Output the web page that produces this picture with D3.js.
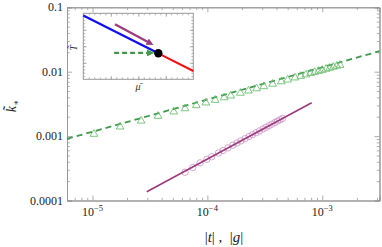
<!DOCTYPE html>
<html>
<head>
<meta charset="utf-8">
<script src="https://cdn.jsdelivr.net/npm/d3@7"></script>
<style>
  body { margin: 0; background: #fff; }
  svg { display: block; font-family: "Liberation Serif", "DejaVu Serif", serif; }
</style>
</head>
<body>
<div id="chart"></div>
<script>
// green triangles: |g| vs k
var gValues = [1.03e-5, 1.74e-5, 2.65e-5, 3.72e-5, 5.1e-5, 6.4e-5, 8.0e-5, 9.7e-5, 1.17e-4, 1.4e-4,
    1.6e-4, 1.94e-4, 2.28e-4, 2.68e-4, 3.1e-4, 3.7e-4, 4.4e-4, 5.0e-4, 5.8e-4, 6.5e-4,
    7.2e-4, 7.9e-4, 8.6e-4, 9.3e-4, 1.0e-3, 1.08e-3, 1.16e-3, 1.25e-3, 1.34e-3, 1.43e-3];
var gK = [1.075e-3, 1.397e-3, 1.725e-3, 2.043e-3, 2.392e-3, 2.68e-3, 2.996e-3, 3.299e-3, 3.624e-3, 3.964e-3,
    4.237e-3, 4.666e-3, 5.058e-3, 5.484e-3, 5.898e-3, 6.444e-3, 7.027e-3, 7.491e-3, 8.068e-3, 8.541e-3,
    8.989e-3, 9.416e-3, 9.824e-3, 1.0216e-2, 1.0594e-2, 1.1009e-2, 1.141e-2, 1.1844e-2, 1.2263e-2, 1.2668e-2];
// green dashed fit (endpoints)
var gFitX = [6e-6, 3.15e-3];
var gFitY = [9.06e-4, 2.08e-2];

// purple circles: |t| vs k
var tValues = [6.4e-5, 7.46e-5, 8.64e-5, 9.9e-5, 1.09e-4, 1.25e-4, 1.37e-4, 1.51e-4, 1.67e-4, 1.81e-4,
    1.96e-4, 2.13e-4, 2.31e-4, 2.47e-4, 2.65e-4, 2.84e-4, 3.05e-4, 3.24e-4, 3.44e-4, 3.65e-4,
    3.88e-4, 4.08e-4, 4.29e-4, 4.51e-4];
var tK = [2.75e-4, 3.25e-4, 3.84e-4, 4.37e-4, 4.79e-4, 5.47e-4, 5.97e-4, 6.56e-4, 7.23e-4, 7.82e-4,
    8.43e-4, 9.13e-4, 9.89e-4, 1.054e-3, 1.127e-3, 1.205e-3, 1.291e-3, 1.369e-3, 1.45e-3, 1.534e-3,
    1.629e-3, 1.71e-3, 1.791e-3, 1.88e-3];
// purple solid fit (endpoints)
var tFitX = [2.97e-5, 8.09e-4];
var tFitY = [1.37e-4, 3.30e-3];

var yTickValues = [1e-4, 1e-3, 1e-2, 1e-1];
var yTickLabels = ["0.0001", "0.001", "0.01", "0.1"];
var xTickValues = [1e-5, 1e-4, 1e-3];
var xTickExps = ["\u22125", "\u22124", "\u22123"];

// inset schematic (normalised units)
var insetBlue = [[0, 0.967], [0.682, 0.394]];
var insetRed = [[0.682, 0.394], [1, 0.126]];
var insetDot = [0.682, 0.394];
var insetPurpleArrow = [[0.288, 0.833], [0.592, 0.561]];
var insetGreenArrow = [[0.28, 0.40], [0.592, 0.40]];

var width = 382, height = 247;
var frameColor = "#999";
var greenLine = "#3f9a4c", greenMark = "#6fbf73";
var purpleLine = "#9b3a7c", purpleMark = "#d39ccb";

var svg = d3.select("#chart").append("svg").attr("width", width).attr("height", height);

var x = d3.scaleLog().domain([6e-6, 3.15e-3]).range([67, 379.5]);
var y = d3.scaleLog().domain([1e-4, 0.1]).range([200.5, 7.3]);

function minorTicks(scale) {
    return scale.ticks().filter(function (d) {
        var m = d / Math.pow(10, Math.floor(Math.log10(d) + 1e-9));
        return Math.abs(m - 1) > 1e-6;
    });
}

var xr = x.range(), yr = y.range();
// frame axes: major + minor ticks, all pointing inward
function drawAxis(axisFn, scale, transform, size) {
    var majors = scale === x ? xTickValues : yTickValues;
    var gMaj = svg.append("g").attr("transform", transform)
        .call(axisFn(scale).tickValues(majors).tickSize(-size).tickFormat(""));
    var gMin = svg.append("g").attr("transform", transform)
        .call(axisFn(scale).tickValues(minorTicks(scale)).tickSize(-size * 0.55).tickFormat(""));
    [gMaj, gMin].forEach(function (g) {
        g.selectAll("path").attr("stroke", frameColor).attr("stroke-width", 1);
        g.selectAll("line").attr("stroke", frameColor).attr("stroke-width", 0.8);
    });
    return gMaj;
}
drawAxis(d3.axisBottom, x, "translate(0," + yr[0] + ")", 5);
drawAxis(d3.axisTop, x, "translate(0," + yr[1] + ")", 5);
drawAxis(d3.axisLeft, y, "translate(" + xr[0] + ",0)", 5);
drawAxis(d3.axisRight, y, "translate(" + xr[1] + ",0)", 5);

// tick labels
svg.selectAll(".ylab").data(yTickValues).enter().append("text")
    .attr("x", xr[0] - 4).attr("y", function (d) { return y(d) + 4; })
    .attr("text-anchor", "end").attr("font-size", 12).attr("fill", "#222")
    .text(function (d, i) { return yTickLabels[i]; });

svg.selectAll(".xlab").data(xTickValues).enter().append("text")
    .attr("x", function (d) { return x(d); }).attr("y", 216)
    .attr("text-anchor", "middle").attr("font-size", 12).attr("fill", "#222")
    .each(function (d, i) {
        var t = d3.select(this);
        t.append("tspan").text("10");
        t.append("tspan").attr("dy", -5).attr("font-size", 8.5).text(xTickExps[i]);
    });

// axis titles
svg.append("text").attr("x", 224).attr("y", 242).attr("text-anchor", "middle")
    .attr("font-size", 15).attr("fill", "#222")
    .html('|<tspan font-style="italic">t</tspan>| ,  &#160;|<tspan font-style="italic">g</tspan>|');

svg.append("text").attr("transform", "translate(16,106) rotate(-90)")
    .attr("text-anchor", "middle").attr("font-size", 14).attr("fill", "#222")
    .html('<tspan font-style="italic">k\u0303</tspan><tspan font-size="9" dy="3">\u2217</tspan>');

// green series
var line = d3.line().x(function (d) { return x(d[0]); }).y(function (d) { return y(d[1]); });
svg.append("path").datum(d3.zip(gFitX, gFitY)).attr("d", line)
    .attr("fill", "none").attr("stroke", greenLine).attr("stroke-width", 1.8)
    .attr("stroke-dasharray", "6,4");

var tri = d3.symbol().type(d3.symbolTriangle).size(26);
svg.selectAll(".tri").data(d3.zip(gValues, gK)).enter().append("path")
    .attr("d", tri)
    .attr("transform", function (d) { return "translate(" + x(d[0]) + "," + y(d[1]) + ")"; })
    .attr("fill", "none").attr("stroke", greenMark).attr("stroke-width", 0.9);

// purple series
svg.selectAll(".circ").data(d3.zip(tValues, tK)).enter().append("circle")
    .attr("cx", function (d) { return x(d[0]); }).attr("cy", function (d) { return y(d[1]); })
    .attr("r", 3.2).attr("fill", "none").attr("stroke", purpleMark).attr("stroke-width", 0.9);

svg.append("path").datum(d3.zip(tFitX, tFitY)).attr("d", line)
    .attr("fill", "none").attr("stroke", purpleLine).attr("stroke-width", 1.6);

// inset
var ix = d3.scaleLinear().domain([0, 1]).range([83.3, 193.3]);
var iy = d3.scaleLinear().domain([0, 1]).range([79.3, 13.3]);
var inset = svg.append("g");
inset.append("rect").attr("x", ix(0)).attr("y", iy(1))
    .attr("width", ix(1) - ix(0)).attr("height", iy(0) - iy(1))
    .attr("fill", "#fff").attr("stroke", frameColor).attr("stroke-width", 1);

function insetTicks(axisFn, scale, transform) {
    var minor = d3.range(0, 1.0001, 0.05).slice(1, -1);
    var major = [0.25, 0.5, 0.75];
    [[minor, 2], [major, 3.5]].forEach(function (p) {
        var g = inset.append("g").attr("transform", transform)
            .call(axisFn(scale).tickValues(p[0]).tickSize(-p[1]).tickFormat(""));
        g.select("path").remove();
        g.selectAll("line").attr("stroke", frameColor).attr("stroke-width", 0.7);
    });
}
insetTicks(d3.axisBottom, ix, "translate(0," + iy(0) + ")");
insetTicks(d3.axisTop, ix, "translate(0," + iy(1) + ")");
insetTicks(d3.axisLeft, iy, "translate(" + ix(0) + ",0)");
insetTicks(d3.axisRight, iy, "translate(" + ix(1) + ",0)");

var defs = svg.append("defs");
function arrowMarker(id, color) {
    defs.append("marker").attr("id", id).attr("viewBox", "0 0 10 10")
        .attr("refX", 2).attr("refY", 5).attr("markerWidth", 3.2).attr("markerHeight", 3.2)
        .attr("markerUnits", "strokeWidth").attr("orient", "auto")
        .append("path").attr("d", "M0,0 L10,5 L0,10 z").attr("fill", color);
}
arrowMarker("arPurple", purpleLine);
arrowMarker("arGreen", greenLine);

var iline = d3.line().x(function (d) { return ix(d[0]); }).y(function (d) { return iy(d[1]); });
inset.append("path").datum(insetBlue).attr("d", iline)
    .attr("stroke", "#1010f0").attr("stroke-width", 2.4).attr("fill", "none");
inset.append("path").datum(insetRed).attr("d", iline)
    .attr("stroke", "#f01010").attr("stroke-width", 2).attr("fill", "none");
inset.append("path").datum(insetPurpleArrow).attr("d", iline)
    .attr("stroke", purpleLine).attr("stroke-width", 2.2).attr("fill", "none")
    .attr("marker-end", "url(#arPurple)");
inset.append("path").datum(insetGreenArrow).attr("d", iline)
    .attr("stroke", greenLine).attr("stroke-width", 2.2).attr("fill", "none")
    .attr("stroke-dasharray", "5,3").attr("marker-end", "url(#arGreen)");
inset.append("circle").attr("cx", ix(insetDot[0])).attr("cy", iy(insetDot[1]))
    .attr("r", 4.2).attr("fill", "#000");

inset.append("text").attr("transform", "translate(77,48) rotate(-90)")
    .attr("text-anchor", "middle").attr("font-size", 10).attr("font-style", "italic").attr("fill", "#333")
    .text("T\u0303");
inset.append("text").attr("x", 138).attr("y", 90)
    .attr("text-anchor", "middle").attr("font-size", 10).attr("font-style", "italic").attr("fill", "#333")
    .text("\u03bc\u0304");
</script>
</body>
</html>
